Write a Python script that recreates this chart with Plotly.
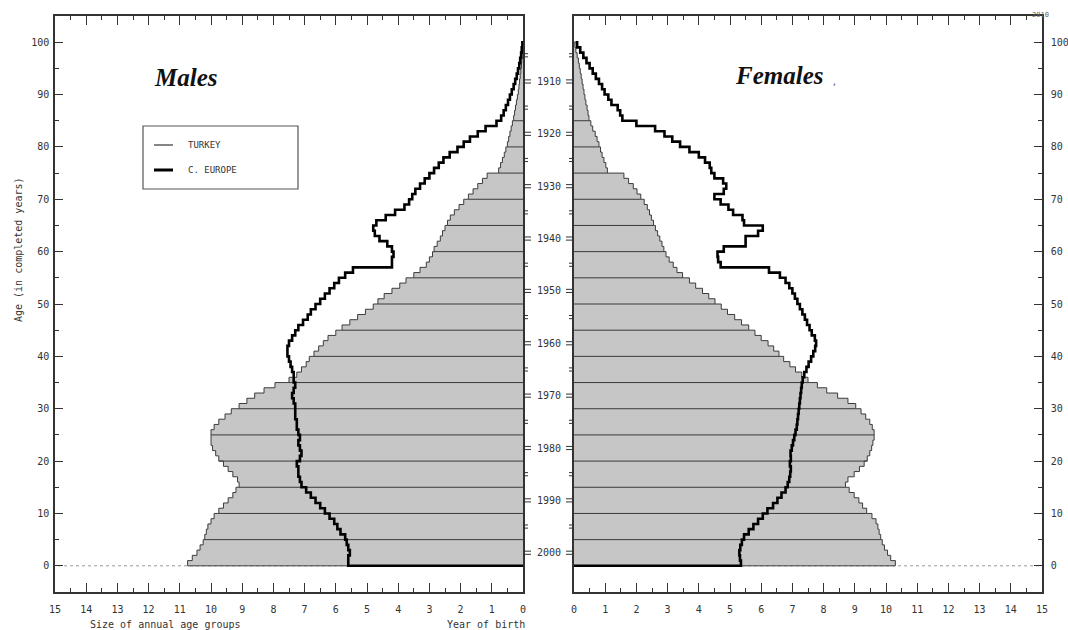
import plotly.graph_objects as go

# ---------------- data ----------------
AGES = list(range(0, 101))

male_turkey = [
    10.75, 10.6, 10.45, 10.35, 10.25, 10.2, 10.15, 10.1, 10.0, 9.9,
    9.75, 9.6, 9.45, 9.3, 9.2, 9.1, 9.15, 9.3, 9.45, 9.6,
    9.75, 9.85, 9.95, 10.0, 10.0, 10.0, 9.9, 9.75, 9.55, 9.35,
    9.1, 8.85, 8.6, 8.3, 7.95, 7.5, 7.25, 7.1, 6.95, 6.85,
    6.7, 6.55, 6.4, 6.25, 6.0, 5.8, 5.55, 5.3, 5.05, 4.8,
    4.65, 4.45, 4.2, 3.95, 3.75, 3.5, 3.3, 3.1, 3.0, 2.9,
    2.85, 2.75, 2.65, 2.58, 2.5, 2.42, 2.33, 2.2, 2.05, 1.9,
    1.75, 1.6, 1.45, 1.3, 1.15, 0.78, 0.72, 0.66, 0.6, 0.55,
    0.5, 0.46, 0.42, 0.38, 0.34, 0.3, 0.27, 0.24, 0.21, 0.18,
    0.15, 0.13, 0.11, 0.09, 0.07, 0.05, 0.04, 0.03, 0.02, 0.01,
    0.0]

male_europe = [
    5.6, 5.6, 5.55, 5.6, 5.65, 5.7, 5.85, 5.95, 6.05, 6.2,
    6.35, 6.5, 6.65, 6.8, 6.95, 7.1, 7.15, 7.2, 7.2, 7.25,
    7.15, 7.1, 7.15, 7.2, 7.15, 7.2, 7.25, 7.25, 7.3, 7.3,
    7.3, 7.35, 7.4, 7.35, 7.3, 7.35, 7.35, 7.4, 7.45, 7.5,
    7.55, 7.55, 7.5, 7.4, 7.3, 7.2, 7.05, 6.9, 6.8, 6.65,
    6.5, 6.35, 6.2, 6.05, 5.9, 5.7, 5.45, 4.2, 4.2, 4.15,
    4.2, 4.35, 4.6, 4.75, 4.8, 4.7, 4.4, 4.1, 3.8, 3.65,
    3.55, 3.45, 3.3, 3.15, 3.0, 2.85, 2.7, 2.55, 2.35, 2.1,
    1.9, 1.7, 1.45, 1.2, 0.85, 0.7, 0.62, 0.55, 0.48, 0.42,
    0.36, 0.3, 0.25, 0.2, 0.16, 0.12, 0.09, 0.06, 0.04, 0.02,
    0.0]

female_turkey = [
    10.3, 10.15, 10.05, 9.95, 9.88, 9.83, 9.78, 9.74, 9.68, 9.55,
    9.38, 9.25, 9.13, 8.98, 8.82, 8.7, 8.78, 8.98, 9.15, 9.3,
    9.4, 9.48, 9.54, 9.58, 9.62, 9.62, 9.56, 9.48, 9.35, 9.2,
    9.03, 8.78, 8.45, 8.1, 7.8, 7.5, 7.3, 7.1, 6.92, 6.72,
    6.57, 6.4, 6.22, 6.0, 5.8, 5.6, 5.37, 5.15, 4.92, 4.72,
    4.52, 4.32, 4.12, 3.9, 3.7, 3.48, 3.3, 3.18, 3.05, 2.95,
    2.88, 2.82, 2.75, 2.68, 2.61, 2.55, 2.48, 2.42, 2.35, 2.25,
    2.14, 2.02, 1.9, 1.75, 1.6, 1.07, 1.02, 0.96, 0.9, 0.85,
    0.8, 0.74, 0.68, 0.6, 0.54, 0.48, 0.45, 0.42, 0.38, 0.35,
    0.32, 0.29, 0.26, 0.23, 0.2, 0.17, 0.14, 0.1, 0.06, 0.03,
    0.0]

female_europe = [
    5.35, 5.32, 5.3, 5.33, 5.38, 5.45, 5.6, 5.75, 5.9, 6.05,
    6.2, 6.38, 6.52, 6.65, 6.78, 6.85, 6.9, 6.93, 6.95, 6.92,
    6.95, 6.94, 6.98, 7.02, 7.06, 7.1, 7.14, 7.16, 7.18, 7.2,
    7.22, 7.24, 7.26, 7.28, 7.3, 7.33, 7.38, 7.45, 7.52, 7.6,
    7.67, 7.73, 7.76, 7.72, 7.62, 7.55, 7.47, 7.4, 7.32, 7.24,
    7.16, 7.08, 7.0, 6.9, 6.78, 6.6, 6.25, 4.7, 4.62, 4.6,
    4.8, 5.5, 5.5, 5.9, 6.05, 5.45, 5.4, 5.1, 4.95, 4.7,
    4.5, 4.8, 4.88, 4.78, 4.5, 4.4, 4.35, 4.2, 4.0, 3.7,
    3.4, 3.15, 2.9, 2.6, 2.0, 1.55, 1.48, 1.4, 1.2, 1.1,
    0.98, 0.9, 0.8, 0.7, 0.6, 0.5, 0.4, 0.3, 0.2, 0.1,
    0.05]

x_ticks = list(range(0, 16))
age_ticks = list(range(0, 101, 10))
birth_year_labels = list(range(1910, 2001, 10))
birth_year_marks = list(range(1905, 2001, 5))
REF_AGE_YEAR = 2002.5          # age position of a birth year = REF_AGE_YEAR - year
grid_ages = list(range(5, 90, 5))

# ---------------- geometry helpers ----------------
W, H = 1068, 630
L, R, T, B = 55, 26, 16, 38
PW, PH = W - L - R, H - T - B


def px(xv):
    """page x pixel -> paper fraction"""
    return (xv - L) / PW


def py(yv):
    """page y pixel -> paper fraction"""
    return (H - B - yv) / PH


LEFT_EDGE = 523
RIGHT_EDGE = 574
dom_left = [0, px(LEFT_EDGE)]
dom_right = [px(RIGHT_EDGE), 1]


def step_xy(vals):
    return [0] + list(vals), [0] + AGES


def grid_xy(vals):
    xs, ys = [], []
    for a in grid_ages:
        xs += [0, vals[a], None]
        ys += [a, a, None]
    return xs, ys


FILL = "#c6c6c6"
EDGE = "#3c3c3c"
AX = "#333333"

fig = go.Figure()

for xa, ya, tur, eur in (("x", "y", male_turkey, male_europe),
                         ("x2", "y2", female_turkey, female_europe)):
    fig.add_trace(go.Scatter(x=[0, 15], y=[0, 0], xaxis=xa, yaxis=ya, mode="lines",
                             line=dict(color="#9a9a9a", width=1, dash="dot"),
                             hoverinfo="skip", showlegend=False))
    sx, sy = step_xy(tur)
    fig.add_trace(go.Scatter(x=sx, y=sy, xaxis=xa, yaxis=ya, mode="lines",
                             line=dict(color=EDGE, width=1, shape="vh"),
                             fill="toself", fillcolor=FILL, name="TURKEY",
                             showlegend=False))
    gx, gy = grid_xy(tur)
    fig.add_trace(go.Scatter(x=gx, y=gy, xaxis=xa, yaxis=ya, mode="lines",
                             line=dict(color="#3a3a3a", width=1),
                             hoverinfo="skip", showlegend=False))
    ex, ey = step_xy(eur)
    fig.add_trace(go.Scatter(x=ex, y=ey, xaxis=xa, yaxis=ya, mode="lines",
                             line=dict(color="black", width=2.6, shape="vh"),
                             name="C. EUROPE", showlegend=False))

common_x = dict(tickvals=x_ticks, ticks="inside", ticklen=9, tickwidth=1.2,
                tickcolor=AX, showline=True, linecolor=AX, linewidth=1.5,
                mirror="ticks", showgrid=False, zeroline=False,
                ticklabelstandoff=7, automargin=False,
                minor=dict(dtick=0.5, tick0=0, ticks="inside", ticklen=4,
                           tickcolor=AX, tickwidth=1.2),
                tickfont=dict(size=10, color=AX))
common_y = dict(range=[-5, 105], tickvals=age_ticks, ticks="inside", ticklen=8,
                tickwidth=1.2, tickcolor=AX, showline=True, linecolor=AX,
                linewidth=1.5, mirror=True, showgrid=False, zeroline=False,
                automargin=False,
                minor=dict(dtick=5, tick0=0, ticks="inside", ticklen=4,
                           tickcolor=AX, tickwidth=1.2),
                tickfont=dict(size=10, color=AX))

fig.update_layout(
    width=W, height=H,
    margin=dict(l=L, r=R, t=T, b=B, pad=0),
    paper_bgcolor="white", plot_bgcolor="white",
    showlegend=False,
    font=dict(family="DejaVu Sans Mono", size=10, color=AX),
    xaxis=dict(domain=dom_left, range=[15, 0], anchor="y", **common_x),
    yaxis=dict(domain=[0, 1], anchor="x", side="left", ticklabelstandoff=2, **common_y),
    xaxis2=dict(domain=dom_right, range=[0, 15], anchor="y2", **common_x),
    yaxis2=dict(domain=[0, 1], anchor="x2", side="right", ticklabelstandoff=5, **common_y),
)

ann = []
shapes = []


def note(xv, yv, text, size=10, xanchor="center", color=AX, family=None, **kw):
    f = dict(size=size, color=color)
    if family:
        f["family"] = family
    ann.append(dict(x=px(xv), y=py(yv), xref="paper", yref="paper", text=text,
                    showarrow=False, xanchor=xanchor, yanchor="middle", font=f, **kw))


note(18, 250, "Age (in completed years)", textangle=-90)
note(88, 624, "Size of annual age groups", xanchor="left")
note(527, 624, "Year of birth", xanchor="right")
note(1040, 15, "2010", size=7, color="#666")

note(186, 77, "<b><i>Males</i></b>", size=25, color="#111", family="Liberation Serif")
note(779, 76, "<b><i>Females</i></b>", size=25, color="#111", family="Liberation Serif")
note(834, 82, ",", size=8, color="#444")

shapes.append(dict(type="rect", xref="paper", yref="paper",
                   x0=px(143), x1=px(298), y0=py(126), y1=py(189),
                   line=dict(color="#555", width=1.2), fillcolor="white"))
shapes.append(dict(type="line", xref="paper", yref="paper",
                   x0=px(154), x1=px(173), y0=py(145), y1=py(145),
                   line=dict(color="#444", width=1.3)))
shapes.append(dict(type="line", xref="paper", yref="paper",
                   x0=px(154), x1=px(173), y0=py(170), y1=py(170),
                   line=dict(color="black", width=3)))
note(186, 145, "TURKEY", size=9, xanchor="left")
note(186, 170, "C. EUROPE", size=9, xanchor="left")

for yr in birth_year_labels:
    ann.append(dict(x=px((LEFT_EDGE + RIGHT_EDGE) / 2), y=REF_AGE_YEAR - yr,
                    xref="paper", yref="y", text=str(yr), showarrow=False,
                    xanchor="center", yanchor="middle",
                    font=dict(size=10, color=AX)))
for yr in birth_year_marks:
    a = REF_AGE_YEAR - yr
    ln = 8 if yr % 10 == 0 else 5
    for d in (-0.3, 0.3):
        shapes.append(dict(type="line", xref="paper", yref="y",
                           x0=px(LEFT_EDGE), x1=px(LEFT_EDGE + ln), y0=a + d, y1=a + d,
                           line=dict(color=AX, width=1)))
        shapes.append(dict(type="line", xref="paper", yref="y",
                           x0=px(RIGHT_EDGE), x1=px(RIGHT_EDGE - ln), y0=a + d, y1=a + d,
                           line=dict(color=AX, width=1)))

fig.update_layout(annotations=ann, shapes=shapes)
# remove the default 8px page margin so the figure fills the 1068x630 window exactly
fig.write_html("out.html",
               config={"displayModeBar": False},
               post_script="document.body.style.margin='0px';"
                           "document.body.style.overflow='hidden';")
